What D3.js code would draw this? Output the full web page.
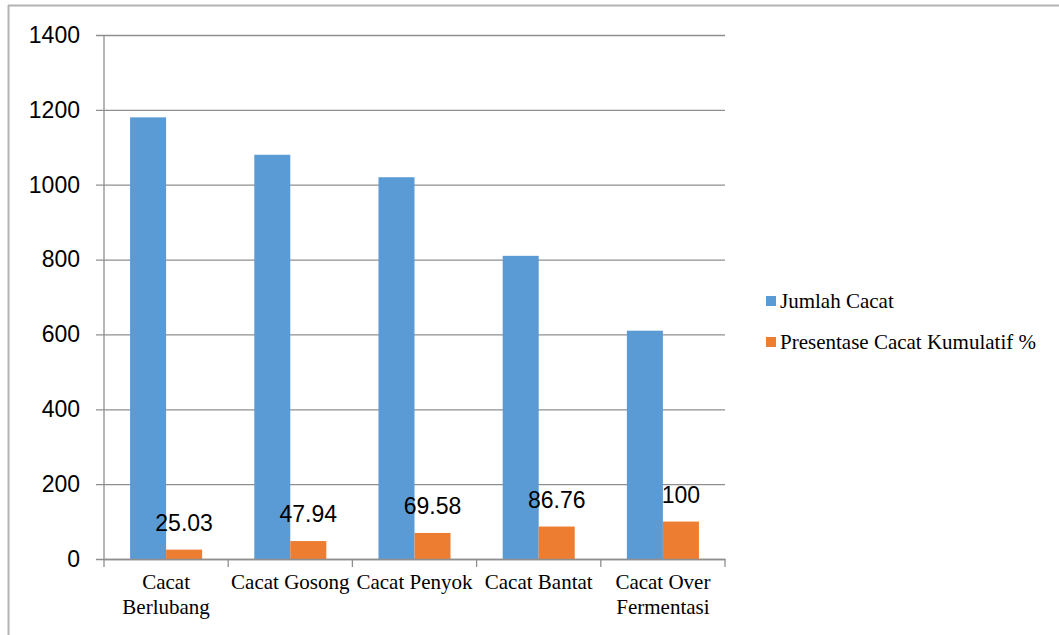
<!DOCTYPE html>
<html>
<head>
<meta charset="utf-8">
<script src="https://cdn.jsdelivr.net/npm/d3@7"></script>
<style>
  html, body { margin: 0; padding: 0; background: #fff; }
  svg { display: block; }
</style>
</head>
<body>
<svg id="chart" width="1059" height="635"></svg>
<script>
// Defect categories and their series
const categories = ["Cacat Berlubang", "Cacat Gosong", "Cacat Penyok", "Cacat Bantat", "Cacat Over Fermentasi"];
const jumlahCacat = [1180, 1080, 1020, 810, 610];
const persenKumulatif = [25.03, 47.94, 69.58, 86.76, 100];
const seriesNames = ["Jumlah Cacat", "Presentase Cacat Kumulatif %"];
const yTicks = [0, 200, 400, 600, 800, 1000, 1200, 1400];

const colors = ["#5B9BD5", "#ED7D31"];
const svg = d3.select("#chart");

// Frame lines along the top and left edges
svg.append("line").attr("x1", 8).attr("x2", 1059).attr("y1", 5.5).attr("y2", 5.5)
  .attr("stroke", "#b3b3b3").attr("stroke-width", 2);
svg.append("line").attr("x1", 8.5).attr("x2", 8.5).attr("y1", 5).attr("y2", 635)
  .attr("stroke", "#b3b3b3").attr("stroke-width", 2);

const plot = { left: 104, right: 725, top: 35, bottom: 559 };

const x = d3.scaleBand().domain(categories).range([plot.left, plot.right]).paddingInner(0).paddingOuter(0);
const y = d3.scaleLinear().domain([0, 1400]).range([plot.bottom, plot.top]);

const barW = x.bandwidth() * 0.29;
const groupOffset = (x.bandwidth() - 2 * barW) / 2;

// Horizontal gridlines with short outer ticks
const yAxis = d3.axisLeft(y).tickValues(yTicks).tickFormat(d3.format("d"))
  .tickSize(-(plot.right - plot.left)).tickPadding(16).tickSizeOuter(0);
const gy = svg.append("g").attr("transform", `translate(${plot.left},0)`).call(yAxis);
gy.select(".domain").remove();
gy.selectAll(".tick line").attr("stroke", "#8f8f8f").attr("stroke-width", 1.3).attr("x1", -8);
gy.selectAll(".tick text")
  .attr("font-family", "'Liberation Sans', Arial, sans-serif")
  .attr("font-size", 23).attr("fill", "#000").attr("x", -24);

// Vertical axis line
svg.append("line").attr("x1", plot.left).attr("x2", plot.left).attr("y1", plot.top).attr("y2", plot.bottom)
  .attr("stroke", "#8f8f8f").attr("stroke-width", 1.3);

// Bars
const groups = svg.append("g").selectAll("g").data(categories).join("g")
  .attr("transform", d => `translate(${x(d) + groupOffset},0)`);

groups.append("rect")
  .attr("x", 0).attr("width", barW)
  .attr("y", (d, i) => y(jumlahCacat[i]))
  .attr("height", (d, i) => y(0) - y(jumlahCacat[i]))
  .attr("fill", colors[0]);

groups.append("rect")
  .attr("x", barW).attr("width", barW)
  .attr("y", (d, i) => y(persenKumulatif[i]))
  .attr("height", (d, i) => y(0) - y(persenKumulatif[i]))
  .attr("fill", colors[1]);

// Value labels for the cumulative percentage
groups.append("text")
  .attr("x", barW * 1.5)
  .attr("y", (d, i) => y(persenKumulatif[i]) - 19)
  .attr("text-anchor", "middle")
  .attr("font-family", "'Liberation Sans', Arial, sans-serif")
  .attr("font-size", 23).attr("fill", "#000")
  .text((d, i) => persenKumulatif[i]);

// Category axis
const xAxis = d3.axisBottom(x).tickSize(0).tickPadding(0);
const gx = svg.append("g").attr("transform", `translate(0,${plot.bottom})`).call(xAxis);
gx.select(".domain").attr("stroke", "#8f8f8f").attr("stroke-width", 1.3);
// boundary ticks between categories
const bounds = categories.map(c => x(c)).concat([plot.right]);
gx.selectAll(".bound").data(bounds).join("line").attr("class", "bound")
  .attr("x1", d => d).attr("x2", d => d).attr("y1", 0).attr("y2", 8)
  .attr("stroke", "#8f8f8f").attr("stroke-width", 1.3);

// Category labels, wrapped to the band width
gx.selectAll(".tick text")
  .attr("font-family", "'Liberation Serif', 'Times New Roman', serif")
  .attr("font-size", 21).attr("fill", "#000")
  .attr("y", 0).attr("dy", null)
  .each(function(d) {
    const t = d3.select(this);
    t.text(null);
    const words = d.split(" ");
    const maxW = x.bandwidth();
    let lines = [], line = [];
    const probe = t.append("tspan");
    words.forEach(w => {
      const test = line.concat([w]).join(" ");
      probe.text(test);
      if (probe.node().getComputedTextLength() > maxW && line.length) {
        lines.push(line.join(" "));
        line = [w];
      } else {
        line.push(w);
      }
    });
    lines.push(line.join(" "));
    probe.remove();
    lines.forEach((l, i) => {
      t.append("tspan").attr("x", 0).attr("y", 30 + i * 25).text(l);
    });
  });

// Legend
const legend = svg.append("g").attr("transform", "translate(766,296)");
seriesNames.forEach((name, i) => {
  const row = legend.append("g").attr("transform", `translate(0,${i * 41})`);
  row.append("rect").attr("width", 10).attr("height", 10).attr("fill", colors[i]);
  row.append("text").attr("x", 14).attr("y", 12)
    .attr("font-family", "'Liberation Serif', 'Times New Roman', serif")
    .attr("font-size", 21).attr("fill", "#000").text(name);
});
</script>
</body>
</html>
